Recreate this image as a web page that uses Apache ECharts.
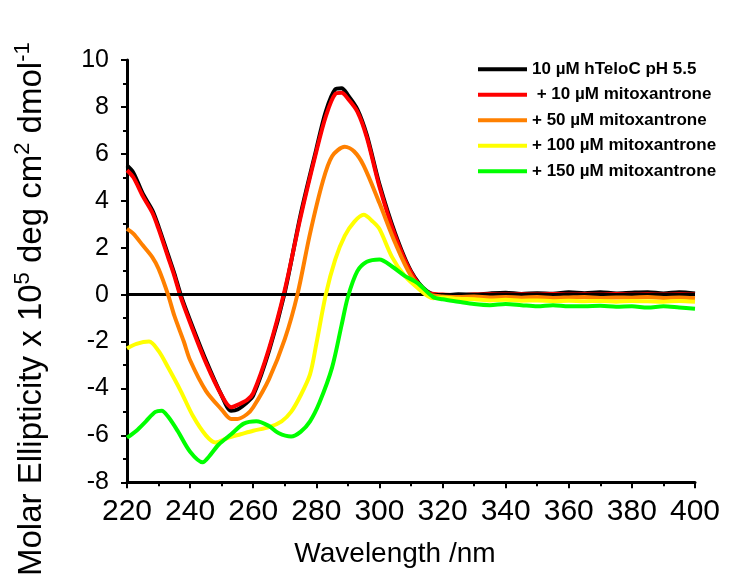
<!DOCTYPE html>
<html lang="en">

<head>
    <meta charset="UTF-8">
    <script src="https://cdn.jsdelivr.net/npm/echarts@6/dist/echarts.min.js"></script>
    <title>CD spectra</title>
    <style>
        body { margin: 0; background: #fff; }
    </style>
</head>

<body>
    <div id="main" style="width: 738px; height: 579px;"></div>

    <script>
        // legend names
        var seriesNames = [
            '10 µM hTeloC pH 5.5',
            ' + 10 µM mitoxantrone',
            '+ 50 µM mitoxantrone',
            '+ 100 µM mitoxantrone',
            '+ 150 µM mitoxantrone'
        ];
        var seriesColors = ['#000000', '#ff0000', '#ff8000', '#ffff00', '#00ff00'];

        // [wavelength nm, molar ellipticity x 10^5]
        var hTeloC = [[220, 5.5], [222, 5.2], [225, 4.3], [228, 3.6], [230, 2.9], [233, 1.7], [235, 0.9], [237, 0], [240, -1.1],
            [245, -2.8], [250, -4.3], [253, -4.95], [255, -4.9], [258, -4.6], [260, -4.3], [265, -2.4], [270, 0.1], [275, 3.4],
            [280, 6.2], [283, 7.8], [286, 8.75], [288, 8.8], [290, 8.5], [293, 7.9], [296, 6.8], [300, 4.7], [305, 2.6], [310, 1.0],
            [315, 0.15], [320, -0.05], [325, 0.02], [330, 0.0], [335, 0.05], [340, 0.08], [345, 0.03], [350, 0.06], [355, 0.04],
            [360, 0.1], [365, 0.06], [370, 0.1], [375, 0.05], [380, 0.08], [385, 0.1], [390, 0.05], [395, 0.1], [400, 0.05]];
        var mito10 = [[220, 5.3], [222, 5.0], [225, 4.2], [228, 3.5], [230, 2.8], [233, 1.6], [235, 0.8], [237, -0.1], [240, -1.2],
            [245, -2.9], [250, -4.3], [253, -4.8], [255, -4.7], [258, -4.5], [260, -4.2], [265, -2.3], [270, 0.2], [275, 3.3],
            [280, 6.1], [283, 7.6], [286, 8.55], [288, 8.6], [290, 8.35], [293, 7.8], [296, 6.7], [300, 4.6], [305, 2.5], [310, 0.95],
            [315, 0.1], [320, 0.0], [325, -0.02], [330, 0.0], [335, 0.02], [340, 0.0], [345, 0.02], [350, 0.0], [355, 0.03],
            [360, 0.0], [365, 0.02], [370, 0.0], [375, 0.03], [380, 0.0], [385, 0.02], [390, 0.0], [395, 0.02], [400, 0.0]];
        var mito50 = [[220, 2.8], [222, 2.6], [225, 2.1], [228, 1.6], [230, 1.1], [233, 0], [235, -0.9], [238, -2.0], [240, -2.8],
            [245, -4.1], [250, -4.9], [253, -5.3], [255, -5.3], [258, -5.1], [260, -4.8], [265, -3.6], [270, -1.9], [274, 0],
            [278, 2.6], [282, 4.8], [285, 5.9], [289, 6.3], [292, 6.1], [295, 5.5], [300, 3.9], [305, 2.2], [310, 0.8], [315, 0.05],
            [320, -0.08], [325, -0.1], [330, -0.08], [335, -0.12], [340, -0.1], [345, -0.13], [350, -0.1], [355, -0.14],
            [360, -0.12], [365, -0.1], [370, -0.14], [375, -0.12], [380, -0.13], [385, -0.1], [390, -0.14], [395, -0.12], [400, -0.15]];
        var mito100 = [[220, -2.3], [223, -2.1], [227, -2.0], [230, -2.4], [233, -3.1], [237, -4.1], [241, -5.2], [245, -6.0],
            [248, -6.3], [252, -6.1], [256, -5.95], [260, -5.8], [265, -5.65], [269, -5.4], [272, -5.0], [275, -4.3], [278, -3.4],
            [280, -2.1], [283, 0], [286, 1.5], [289, 2.5], [292, 3.1], [295, 3.4], [298, 3.1], [300, 2.8], [304, 1.6], [308, 0.8],
            [312, 0.3], [317, -0.15], [320, -0.12], [325, -0.18], [330, -0.2], [335, -0.25], [340, -0.22], [345, -0.26], [350, -0.25],
            [355, -0.28], [360, -0.26], [365, -0.28], [370, -0.27], [375, -0.3], [380, -0.27], [385, -0.28], [390, -0.3], [395, -0.27], [400, -0.3]];
        var mito150 = [[220, -6.1], [223, -5.8], [226, -5.4], [229, -5.0], [231, -4.95], [233, -5.2], [236, -5.8], [240, -6.7],
            [244, -7.15], [246, -6.9], [249, -6.4], [253, -5.95], [257, -5.5], [261, -5.4], [265, -5.6], [268, -5.9], [272, -6.05],
            [275, -5.85], [278, -5.4], [281, -4.6], [285, -3.1], [288, -1.3], [290, -0.1], [293, 1.0], [296, 1.4], [300, 1.5],
            [304, 1.2], [308, 0.8], [312, 0.5], [317, -0.1], [320, -0.2], [325, -0.3], [330, -0.4], [335, -0.45], [340, -0.4],
            [345, -0.45], [350, -0.5], [355, -0.45], [360, -0.5], [365, -0.5], [370, -0.48], [375, -0.52], [380, -0.5],
            [385, -0.55], [390, -0.5], [395, -0.55], [400, -0.6]];
        var allData = [hTeloC, mito10, mito50, mito100, mito150];

        var chartDom = document.getElementById('main');
        var myChart = echarts.init(chartDom);
        var font = 'Liberation Sans, Arial, sans-serif';

        var series = allData.map(function (d, i) {
            var s = {
                name: seriesNames[i],
                type: 'line',
                data: d,
                smooth: 0.3,
                showSymbol: false,
                z: 3 + i,
                color: seriesColors[i],
                lineStyle: { width: 4, color: seriesColors[i] }
            };
            if (i === 0) {
                // zero line
                s.markLine = {
                    silent: true,
                    symbol: 'none',
                    label: { show: false },
                    lineStyle: { color: '#000', width: 3, type: 'solid' },
                    data: [{ yAxis: 0 }]
                };
            }
            return s;
        });

        var option = {
            animation: false,
            textStyle: { fontFamily: font },
            grid: { left: 127, right: 43, top: 60, bottom: 96 },
            legend: {
                orient: 'vertical',
                left: 478,
                top: 60,
                padding: 0,
                icon: 'rect',
                itemWidth: 49,
                itemHeight: 4,
                itemGap: 7,
                data: seriesNames,
                textStyle: { fontSize: 17, fontWeight: 'bold', color: '#000', fontFamily: font, lineHeight: 18.5 }
            },
            xAxis: {
                type: 'value',
                min: 220,
                max: 400,
                interval: 20,
                name: 'Wavelength /nm',
                nameLocation: 'middle',
                nameGap: 58,
                nameTextStyle: { fontSize: 28, color: '#000', padding: [0, 32, 0, 0] },
                axisLine: { onZero: false, lineStyle: { color: '#000', width: 3 } },
                axisTick: { show: true, length: 6, lineStyle: { width: 2, color: '#000' } },
                minorTick: { show: true, splitNumber: 2, length: 4, lineStyle: { width: 2, color: '#000' } },
                axisLabel: { fontSize: 30, color: '#000', margin: 14 },
                splitLine: { show: false }
            },
            yAxis: {
                type: 'value',
                min: -8,
                max: 10,
                interval: 2,
                name: 'Molar Ellipticity x 10{sup|5} deg cm{sup|2} dmol{sup|-1}',
                nameLocation: 'middle',
                nameGap: 75,
                nameTextStyle: {
                    fontSize: 33,
                    color: '#000',
                    padding: [0, 76, 0, 0],
                    rich: { sup: { fontSize: 22, color: '#000', padding: [0, 0, 18, 0] } }
                },
                axisLine: { onZero: false, lineStyle: { color: '#000', width: 3 } },
                axisTick: { show: true, length: 6, lineStyle: { width: 2, color: '#000' } },
                minorTick: { show: true, splitNumber: 2, length: 4, lineStyle: { width: 2, color: '#000' } },
                axisLabel: { fontSize: 25, color: '#000', margin: 18 },
                splitLine: { show: false }
            },
            series: series
        };
        myChart.setOption(option);
    </script>
</body>

</html>
